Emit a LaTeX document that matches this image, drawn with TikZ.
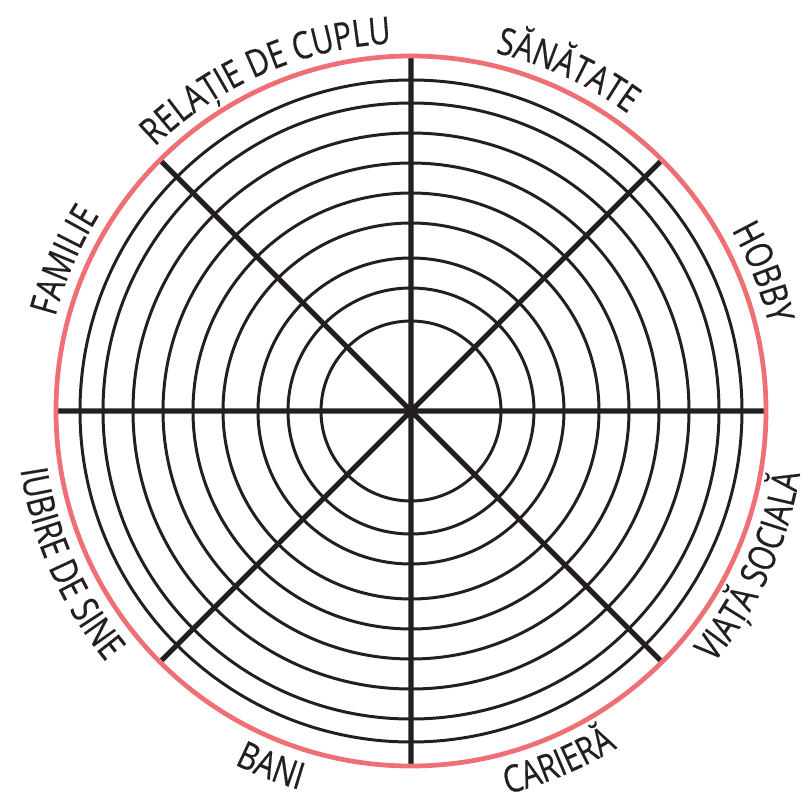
\documentclass[tikz,border=0pt]{standalone}
\usepackage{fontspec}
\setmainfont[FakeStretch=0.8,FakeBold=0.4]{Open Sans}
\usetikzlibrary{decorations.text}
\definecolor{ink}{HTML}{231F20}
\definecolor{rim}{RGB}{238,112,117}
\newcommand\wheelfont{\fontsize{21.5}{25}\selectfont\color{ink}}

\begin{document}
\begin{tikzpicture}[x=0.02cm, y=0.02cm,
  ring/.style={draw=ink, line width=1.7pt},
  spoke/.style={draw=ink, line width=2.9pt},
  rimline/.style={draw=rim, line width=2.7pt},
  arclabel/.style={decorate, decoration={text along path, text align=center}}]
\useasboundingbox (-411,-391) rectangle (397,411);
\coordinate (c) at (0,0);
% rings and spokes
\draw[ring] (c) circle[radius=90] circle[radius=123] circle[radius=153] circle[radius=188]
  circle[radius=218] circle[radius=248] circle[radius=278] circle[radius=308] circle[radius=331];
\draw[spoke] (0:353) -- (180:353) (90:353) -- (270:353) (45:353) -- (225:353) (135:353) -- (315:353);
\draw[rimline] (c) circle[radius=355];
% upper labels, read clockwise
\path[arclabel, decoration={text={|\wheelfont|RELAȚIE DE CUPLU}}] (143.6:368) arc[start angle=143.6, end angle=83.6, radius=368];
\path[arclabel, decoration={text={|\wheelfont|SĂNĂTATE}}] (95.3:368) arc[start angle=95.3, end angle=35.3, radius=368];
\path[arclabel, decoration={text={|\wheelfont|HOBBY}}] (51.5:368) arc[start angle=51.5, end angle=-8.5, radius=368];
\path[arclabel, decoration={text={|\wheelfont|FAMILIE}}] (186.5:368) arc[start angle=186.5, end angle=126.5, radius=368];
% lower labels, read counterclockwise
\path[arclabel, decoration={text={|\wheelfont|VIAȚĂ SOCIALĂ}}] (-54.5:394) arc[start angle=-54.5, end angle=5.5, radius=394];
\path[arclabel, decoration={text={|\wheelfont|CARIERĂ}}] (-97.2:395) arc[start angle=-97.2, end angle=-37.2, radius=395];
\path[arclabel, decoration={text={|\wheelfont|BANI}}] (-141.5:395) arc[start angle=-141.5, end angle=-81.5, radius=395];
\path[arclabel, decoration={text={|\wheelfont|IUBIRE DE SINE}}] (174:395) arc[start angle=174, end angle=234, radius=395];
\end{tikzpicture}
\end{document}
